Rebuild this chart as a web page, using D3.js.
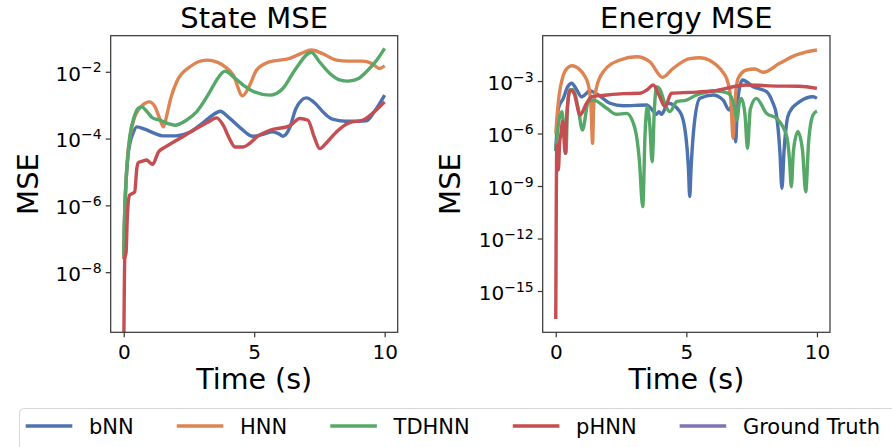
<!DOCTYPE html>
<html>
<head>
<meta charset="utf-8">
<script src="https://cdn.jsdelivr.net/npm/d3@7"></script>
<style>
    body { margin: 0; background: #fff; }
    svg { font-family: "DejaVu Sans", sans-serif; }
</style>
</head>
<body>
<svg id="chart" width="892" height="447"></svg>
<script>
// Series names and colours (seaborn "deep")
const seriesNames = ["bNN", "HNN", "TDHNN", "pHNN", "Ground Truth"];
const seriesColors = ["#4C72B0", "#DD8452", "#55A868", "#C44E52", "#8172B3"];

// State MSE, points are [time (s), log10(MSE)]
const state_bNN = [[0,-7.6],[0.03,-6.4],[0.08,-5.4],[0.15,-4.6],[0.25,-4.1],[0.35,-3.85],[0.5,-3.65],[0.8,-3.72],[1.2,-3.85],[1.5,-3.92],[2.0,-3.92],[2.5,-3.82],[3.0,-3.55],[3.4,-3.3],[3.7,-3.18],[4.0,-3.35],[4.5,-3.7],[4.95,-3.93],[5.3,-3.88],[5.7,-3.8],[5.95,-3.86],[6.1,-3.93],[6.35,-3.7],[6.6,-3.1],[7.0,-2.78],[7.3,-2.92],[7.7,-3.25],[8.0,-3.42],[8.5,-3.48],[9.0,-3.48],[9.3,-3.47],[9.6,-3.2],[10.0,-2.7]];
const state_HNN = [[0,-7.6],[0.03,-6.4],[0.08,-5.4],[0.15,-4.5],[0.25,-3.9],[0.4,-3.4],[0.6,-3.1],[0.8,-2.95],[0.98,-2.9],[1.2,-3.05],[1.4,-3.45],[1.52,-3.65],[1.65,-3.3],[1.8,-2.8],[2.03,-2.3],[2.54,-1.85],[3.18,-1.65],[3.6,-1.72],[3.88,-1.85],[4.2,-2.1],[4.55,-2.72],[4.83,-2.4],[5.09,-1.95],[5.6,-1.7],[6.36,-1.6],[6.8,-1.45],[7.19,-1.35],[7.6,-1.45],[8.15,-1.65],[8.6,-1.68],[9.16,-1.68],[9.5,-1.75],[9.81,-1.9],[10.0,-1.82]];
const state_TDHNN = [[0,-7.5],[0.03,-6.4],[0.08,-5.4],[0.15,-4.6],[0.24,-3.9],[0.4,-3.35],[0.55,-3.1],[0.69,-3.05],[0.9,-3.2],[1.1,-3.38],[1.39,-3.45],[1.7,-3.55],[1.96,-3.6],[2.4,-3.45],[2.79,-3.2],[3.3,-2.6],[3.6,-2.2],[3.88,-1.98],[4.2,-2.15],[4.58,-2.4],[5.0,-2.6],[5.6,-2.7],[6.1,-2.5],[6.6,-1.9],[7.19,-1.42],[7.5,-1.7],[7.9,-2.05],[8.3,-2.25],[8.6,-2.28],[9.0,-2.2],[9.3,-2.0],[9.7,-1.65],[10.0,-1.3]];
const state_pHNN = [[0,-10.5],[0.04,-7.6],[0.09,-7.4],[0.14,-6.3],[0.22,-5.7],[0.42,-5.6],[0.5,-4.9],[0.56,-4.72],[0.7,-4.68],[0.88,-4.64],[1.0,-4.72],[1.11,-4.77],[1.25,-4.55],[1.33,-4.4],[1.6,-4.25],[2.03,-4.05],[2.4,-3.88],[2.79,-3.7],[3.2,-3.52],[3.56,-3.38],[3.81,-3.6],[4.05,-4.0],[4.26,-4.25],[4.58,-4.25],[4.83,-4.14],[5.1,-3.95],[5.6,-3.75],[6.36,-3.62],[6.75,-3.4],[7.06,-3.45],[7.3,-3.95],[7.51,-4.3],[7.8,-4.1],[8.15,-3.8],[8.66,-3.52],[9.17,-3.45],[9.6,-3.2],[10.0,-2.9]];

// Energy MSE, points are [time (s), log10(MSE)]
const energy_bNN = [[0,-7],[0.05,-5.5],[0.1,-4.56],[0.29,-3.99],[0.45,-3.35],[0.61,-3.13],[0.8,-3.5],[0.99,-3.9],[1.31,-3.57],[1.63,-3.8],[2.08,-4.27],[2.58,-4.41],[3.48,-4.37],[3.75,-4.75],[3.86,-4.9],[3.95,-4.75],[4.05,-4.9],[4.3,-4.27],[4.75,-4.75],[4.95,-5.8],[5.08,-8],[5.13,-9.6],[5.18,-8],[5.3,-5.5],[5.52,-3.99],[6.02,-3.8],[6.41,-4.09],[6.64,-4.66],[6.75,-4.4],[6.85,-5.5],[6.89,-6.47],[6.95,-4.5],[7.05,-3.3],[7.15,-2.94],[7.55,-3.32],[8.07,-3.61],[8.3,-4.2],[8.45,-4.94],[8.58,-7],[8.66,-9.13],[8.74,-7],[8.85,-5.3],[8.96,-4.75],[9.34,-4.18],[9.85,-3.9],[10.0,-3.99]];
const energy_HNN = [[0,-6],[0.05,-5],[0.1,-4.18],[0.29,-2.66],[0.45,-2.25],[0.61,-2.13],[0.93,-2.37],[1.1,-2.7],[1.25,-3.23],[1.35,-4.5],[1.41,-6.56],[1.45,-4.5],[1.5,-3.8],[1.82,-2.47],[2.46,-1.8],[3.1,-1.61],[3.6,-1.9],[4.09,-2.79],[4.5,-2.27],[5.13,-1.72],[5.52,-1.67],[6.15,-2.09],[6.4,-2.5],[6.54,-2.85],[6.7,-4],[6.79,-6.27],[6.85,-4.5],[6.98,-2.85],[7.3,-2.37],[7.62,-2.31],[7.94,-2.5],[8.57,-1.99],[9.21,-1.51],[9.6,-1.33],[10.0,-1.23]];
const energy_TDHNN = [[0,-7],[0.1,-5.5],[0.23,-4.75],[0.3,-5.5],[0.39,-7.13],[0.45,-4.5],[0.55,-3.51],[0.65,-3.5],[0.86,-4.56],[1.02,-5.8],[1.25,-4.18],[1.44,-4.09],[1.95,-4.56],[2.33,-4.9],[2.71,-4.85],[3.03,-5.7],[3.2,-7.5],[3.33,-10.18],[3.42,-6],[3.5,-4.47],[3.6,-5.5],[3.69,-7.61],[3.78,-4.5],[3.86,-3.33],[3.98,-3.45],[4.22,-4.47],[4.37,-4.75],[4.63,-4.18],[5.0,-4.09],[5.39,-3.8],[6.15,-3.57],[6.6,-3.7],[6.85,-4.5],[6.94,-5.23],[7.02,-4.3],[7.11,-3.99],[7.25,-5],[7.34,-6.85],[7.45,-4.6],[7.68,-3.99],[8.07,-4.85],[8.45,-5.13],[8.83,-6.09],[8.95,-7.5],[9.02,-9.04],[9.1,-7],[9.27,-5.9],[9.45,-7],[9.57,-9.33],[9.68,-6.5],[9.85,-4.94],[10.0,-4.71]];
const energy_pHNN = [[0,-16.6],[0.02,-10],[0.04,-6.66],[0.1,-8.09],[0.15,-6.5],[0.19,-6.09],[0.27,-5.3],[0.36,-7.13],[0.42,-5],[0.55,-3.51],[0.7,-3.7],[0.93,-4.94],[1.18,-4.27],[1.38,-3.9],[1.95,-3.8],[2.6,-3.72],[3.22,-3.7],[3.5,-3.5],[3.73,-3.23],[3.95,-3.8],[4.18,-4.47],[4.43,-3.7],[5.13,-3.65],[6.02,-3.57],[7.3,-3.23],[8.57,-3.29],[9.3,-3.3],[10.0,-3.42]];

// Axis ticks
const timeTicks = [0, 5, 10];
const stateTickExps = [-8, -6, -4, -2];
const energyTickExps = [-15, -12, -9, -6, -3];

const svg = d3.select("#chart");

function drawPanel(opts) {
    const {left, right, top, bottom} = opts;

    const x = d3.scaleLinear().domain([-0.5, 10.5]).range([left, right]);
    const y = d3.scaleLog().domain(opts.yDomain).range([bottom, top]);

    const g = svg.append("g");

    g.append("clipPath").attr("id", opts.id + "-clip")
        .append("rect")
        .attr("x", left).attr("y", top)
        .attr("width", right - left).attr("height", bottom - top);

    const line = d3.line()
        .x(d => x(d[0]))
        .y(d => y(Math.pow(10, d[1])))
        .curve(d3.curveMonotoneX);

    g.append("g")
        .attr("clip-path", `url(#${opts.id}-clip)`)
        .selectAll("path")
        .data(opts.series)
        .join("path")
        .attr("d", d => line(d))
        .attr("fill", "none")
        .attr("stroke", (d, i) => seriesColors[i])
        .attr("stroke-width", 3.4)
        .attr("stroke-linejoin", "round");

    // x axis
    const xAxis = g.append("g")
        .attr("transform", `translate(0,${bottom})`)
        .call(d3.axisBottom(x).tickValues(timeTicks).tickSize(5).tickPadding(8).tickFormat(d3.format("d")));
    xAxis.select(".domain").remove();
    xAxis.selectAll("text").attr("font-size", 20).attr("fill", "#000").attr("font-family", "DejaVu Sans");

    // y axis with 10^n labels
    const yAxis = g.append("g")
        .attr("transform", `translate(${left},0)`)
        .call(d3.axisLeft(y).tickValues(opts.tickExps.map(e => Math.pow(10, e))).tickSize(5).tickPadding(4).tickFormat(() => ""));
    yAxis.select(".domain").remove();
    yAxis.selectAll(".tick text").each(function(d) {
        const t = d3.select(this)
            .attr("font-size", 20).attr("fill", "#000").attr("font-family", "DejaVu Sans")
            .attr("dy", "0.42em");
        t.append("tspan").text("10");
        t.append("tspan").attr("font-size", 14).attr("dy", -8.3)
            .text("\u2212" + Math.abs(Math.round(Math.log10(d))));
    });
    g.selectAll(".tick line").attr("stroke", "#333").attr("stroke-width", 1.2);

    // frame
    g.append("rect")
        .attr("x", left).attr("y", top)
        .attr("width", right - left).attr("height", bottom - top)
        .attr("fill", "none").attr("stroke", "#333").attr("stroke-width", 1.2);

    // title and labels
    g.append("text")
        .attr("x", (left + right) / 2).attr("y", 28)
        .attr("text-anchor", "middle").attr("font-size", 29)
        .text(opts.title);

    g.append("text")
        .attr("x", (left + right) / 2).attr("y", 389)
        .attr("text-anchor", "middle").attr("font-size", 28.5)
        .text("Time (s)");

    g.append("text")
        .attr("transform", `translate(${opts.yLabelX},${(top + bottom) / 2}) rotate(-90)`)
        .attr("text-anchor", "middle").attr("font-size", 29)
        .text("MSE");
}

drawPanel({
    id: "state", title: "State MSE",
    left: 110.7, right: 397.7, top: 35.7, bottom: 332.3,
    yDomain: [Math.pow(10, -9.8), Math.pow(10, -0.92)],
    tickExps: stateTickExps, yLabelX: 38,
    series: [state_bNN, state_HNN, state_TDHNN, state_pHNN]
});

drawPanel({
    id: "energy", title: "Energy MSE",
    left: 542.7, right: 830, top: 35.7, bottom: 332.3,
    yDomain: [Math.pow(10, -17.36), Math.pow(10, -0.41)],
    tickExps: energyTickExps, yLabelX: 460,
    series: [energy_bNN, energy_HNN, energy_TDHNN, energy_pHNN]
});

// Legend (runs past right edge, as in the original)
const legend = svg.append("g");
legend.append("rect")
    .attr("x", 19.5).attr("y", 408.5)
    .attr("width", 900).attr("height", 60).attr("rx", 4)
    .attr("fill", "#fff").attr("stroke", "#d6d6d6").attr("stroke-width", 1);

let lx = 25.7;
seriesNames.forEach((name, i) => {
    legend.append("line")
        .attr("x1", lx).attr("x2", lx + 46.6)
        .attr("y1", 426).attr("y2", 426)
        .attr("stroke", seriesColors[i]).attr("stroke-width", 3.4);
    const t = legend.append("text")
        .attr("x", lx + 63.3).attr("y", 434)
        .attr("font-size", 21)
        .text(name);
    lx += 63.3 + t.node().getComputedTextLength() + 43;
});
</script>
</body>
</html>
